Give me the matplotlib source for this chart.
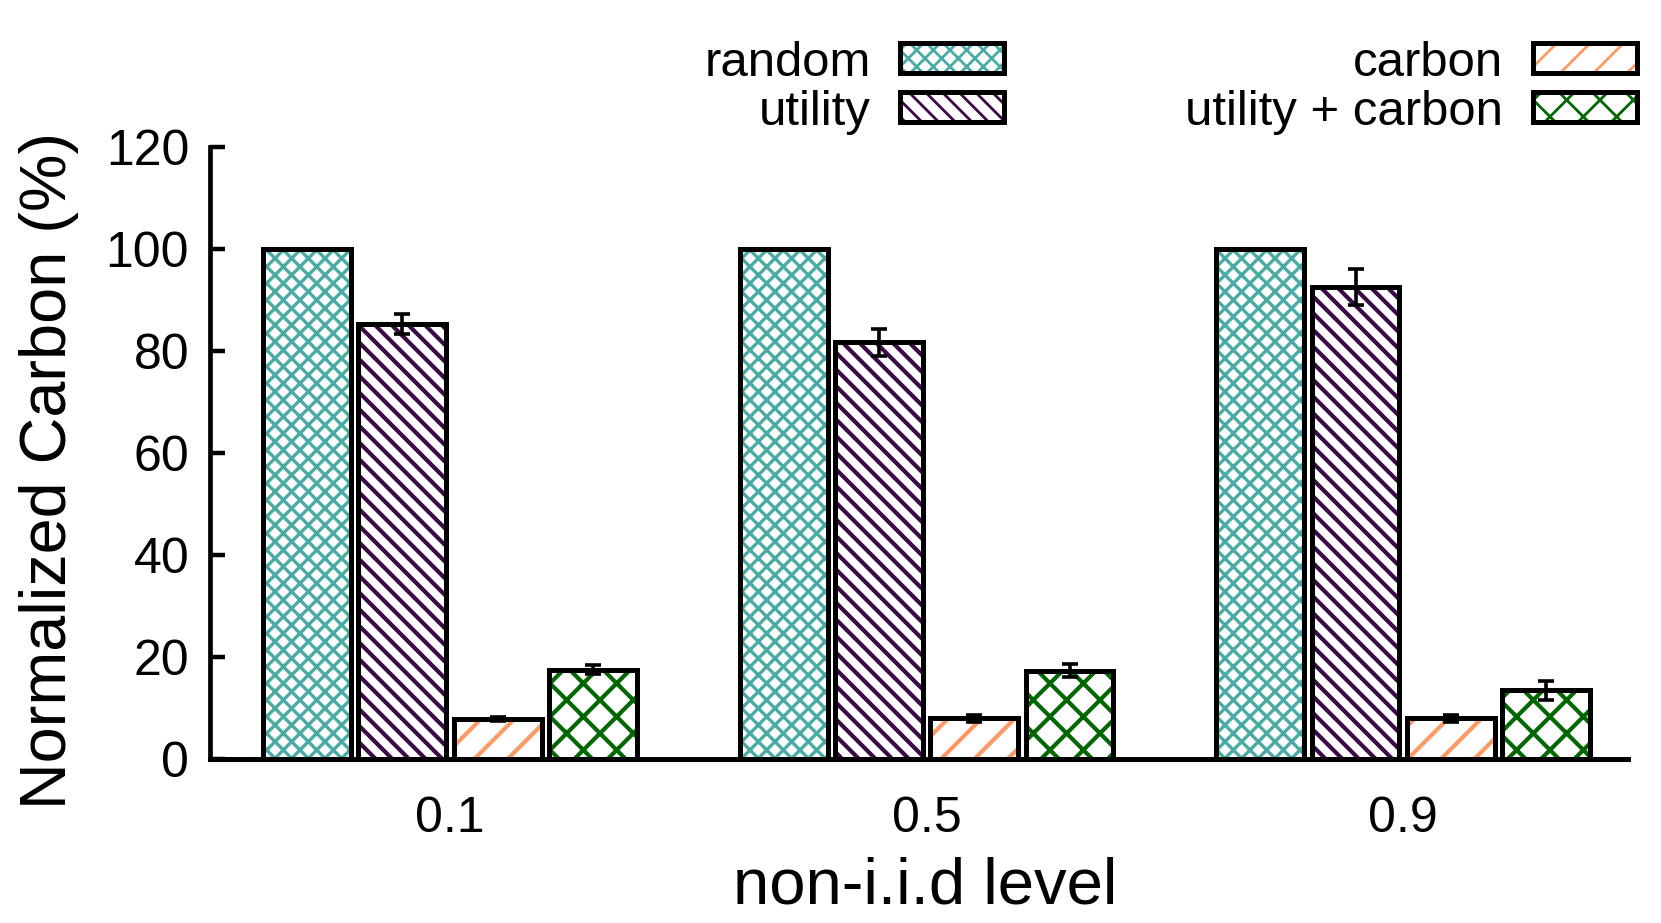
import numpy as np
import matplotlib
matplotlib.use("Agg")
import matplotlib.pyplot as plt
from matplotlib.patches import Patch
from matplotlib.legend_handler import HandlerTuple

levels = ["0.1", "0.5", "0.9"]
series = ["random", "utility", "carbon", "utility + carbon"]
values = {
    "random": [100.0, 100.0, 100.0],
    "utility": [85.3, 81.7, 92.6],
    "carbon": [7.8, 7.9, 7.9],
    "utility + carbon": [17.5, 17.3, 13.4],
}
errors = {
    "random": [0.0, 0.0, 0.0],
    "utility": [1.9, 2.6, 3.5],
    "carbon": [0.4, 0.6, 0.7],
    "utility + carbon": [0.9, 1.3, 1.8],
}
yticks = [0, 20, 40, 60, 80, 100, 120]

colors = ["#4aaba5", "#3a0a44", "#ff9966", "#006600"]
hatches = ["xxxx", "\\\\\\\\", "//", "xx"]
hatch_lw = [1.2, 1.5, 1.5, 1.5]

plt.rcParams.update({
    "font.family": ["Liberation Sans", "DejaVu Sans"],
})


def hatched(patches, lw):
    for p in patches:
        if hasattr(p, "set_hatch_linewidth"):
            p.set_hatch_linewidth(lw)
    return patches


fig = plt.figure(figsize=(8.305, 4.615), dpi=200)
ax = fig.add_axes([0.1263, 0.178, 0.8537, 0.6625])

x = np.arange(len(levels))
width = 0.184
offsets = [-0.3, -0.1, 0.1, 0.3]

handles = []
for name, off, col, h, hlw in zip(series, offsets, colors, hatches, hatch_lw):
    with plt.rc_context({"hatch.linewidth": hlw}):
        bars = ax.bar(x + off, values[name], width, facecolor="white",
                      edgecolor=col, hatch=h, linewidth=0, zorder=2)
        hatched(bars, hlw)
        hp = hatched([Patch(facecolor="white", edgecolor=col, hatch=h,
                            linewidth=0)], hlw)[0]
    ax.bar(x + off, values[name], width, fill=False, edgecolor="black",
           linewidth=1.8, zorder=3)
    err = np.array(errors[name])
    mask = err > 0
    if mask.any():
        ax.errorbar((x + off)[mask], np.array(values[name])[mask], yerr=err[mask],
                    fmt="none", ecolor="black", elinewidth=1.3, capsize=2.9,
                    capthick=1.3, zorder=4)
    handles.append((hp, Patch(fill=False, edgecolor="black", linewidth=1.8)))

ax.set_xlim(-0.504, 2.471)
ax.set_ylim(0, 120)
ax.set_yticks(yticks)
ax.set_xticks(x)
ax.set_xticklabels(levels)
ax.tick_params(axis="y", direction="in", length=5.3, width=1.6, pad=7.4,
               labelsize=18)
ax.tick_params(axis="x", length=0, pad=13.3, labelsize=18)
for s in ["top", "right"]:
    ax.spines[s].set_visible(False)
ax.spines["left"].set_linewidth(1.7)
ax.spines["bottom"].set_linewidth(1.8)

ax.set_xlabel("non-i.i.d level", fontsize=23.5)
ax.set_ylabel("Normalized Carbon (%)", fontsize=23.3)
ax.xaxis.set_label_coords(0.5045, -0.16)
ax.yaxis.set_label_coords(-0.092, 0.472)

fig.legend(handles, series, handler_map={tuple: HandlerTuple(ndivide=1, pad=0)},
           loc="upper right", bbox_to_anchor=(0.9855, 0.956), ncol=2,
           frameon=False, markerfirst=False, fontsize=17.7,
           handlelength=2.12, handleheight=0.57, handletextpad=0.6,
           columnspacing=3.68, labelspacing=0.08, borderpad=0, borderaxespad=0)

fig.savefig("out.png", dpi=200)
